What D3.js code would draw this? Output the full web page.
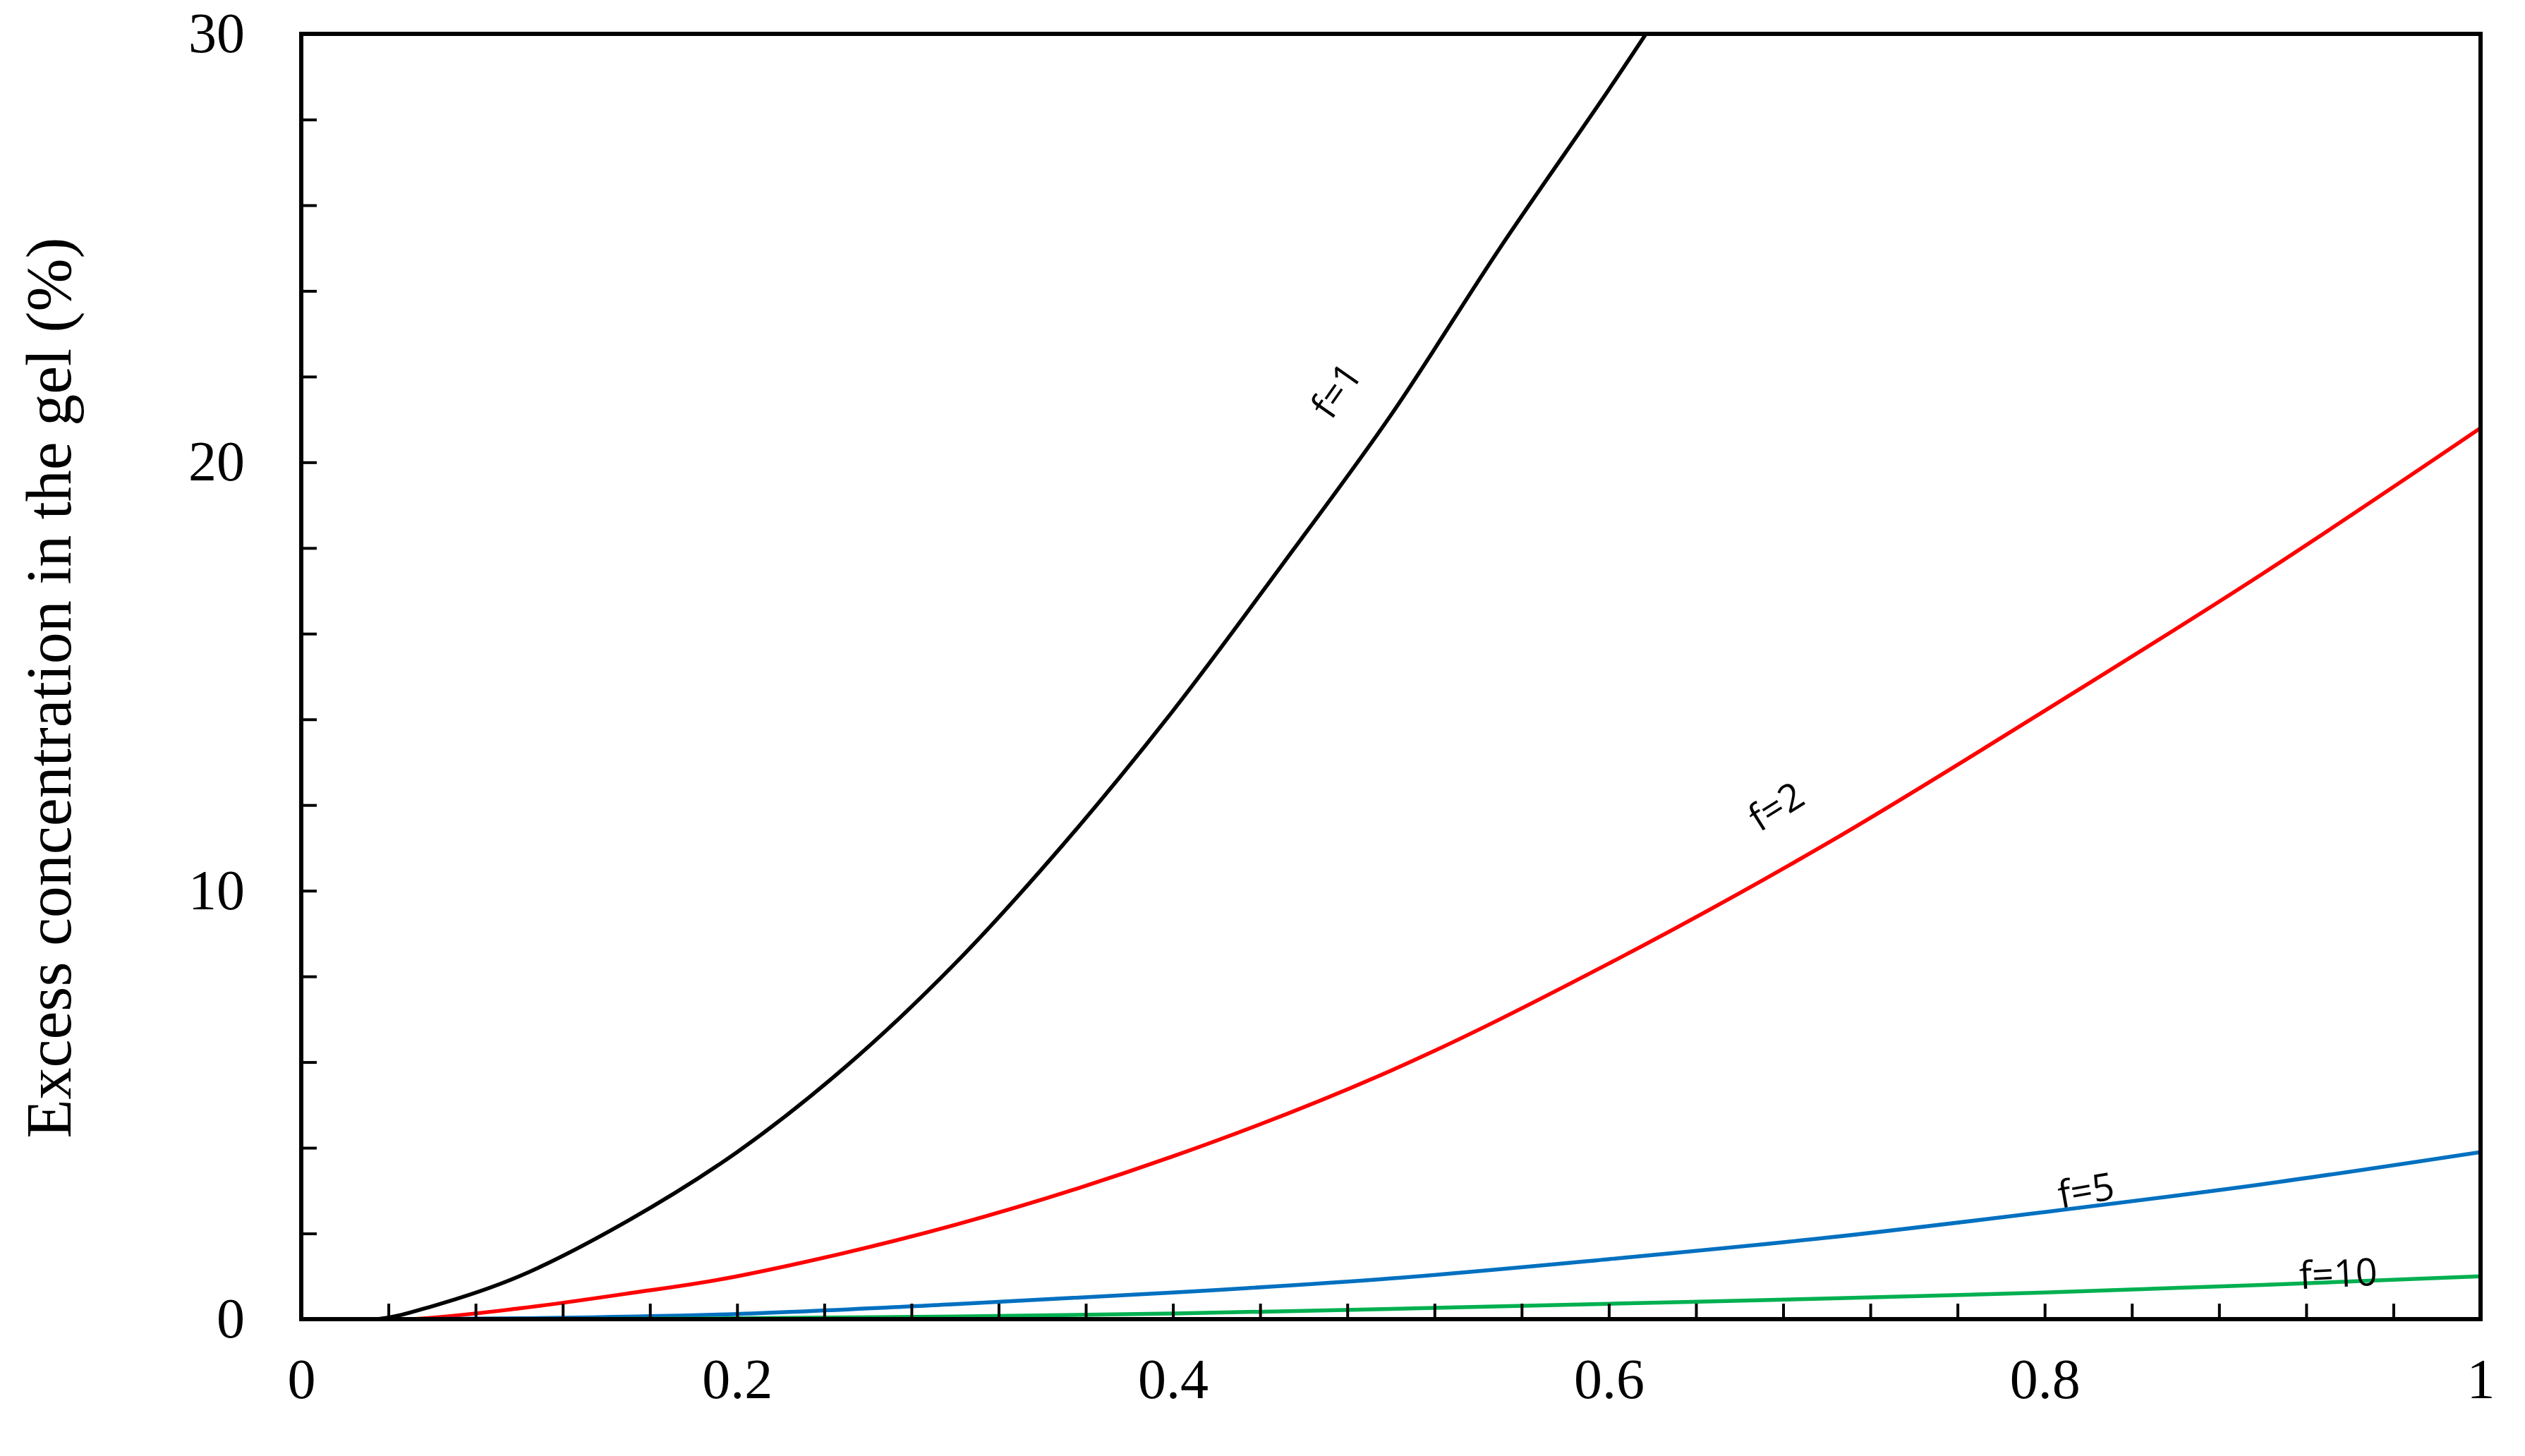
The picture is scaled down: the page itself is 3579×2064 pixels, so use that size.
<!DOCTYPE html><html><head><meta charset="utf-8"><script src="https://cdn.jsdelivr.net/npm/d3@7"></script>
<style>body{margin:0;background:#fff}</style></head><body><svg id="c" width="3579" height="2064"></svg>
<script>
const xs=[0,0.035,0.06,0.1,0.15,0.2,0.25,0.3,0.35,0.4,0.45,0.5,0.55,0.6,0.63];
const f1=[0,0,0.3,1.0,2.3,3.9,5.9,8.3,11.1,14.2,17.6,21.1,25.0,28.7,31.0];
const xs2=[0,0.05,0.1,0.15,0.2,0.3,0.4,0.5,0.6,0.7,0.8,0.9,1];
const f2=[0,0,0.25,0.6,1.0,2.2,3.8,5.8,8.3,11.1,14.2,17.4,20.8];
const xs3=[0,0.1,0.2,0.3,0.4,0.5,0.6,0.7,0.8,0.9,1];
const f5=[0,0.02,0.12,0.35,0.62,0.95,1.4,1.9,2.5,3.15,3.9];
const f10=[0,0,0.02,0.06,0.13,0.24,0.36,0.48,0.62,0.8,1.0];
const series=[{x:xs,y:f1,c:"#000",l:"f=1",lx:0.48,ly:21.5,a:-55},{x:xs2,y:f2,c:"#ff0000",l:"f=2",lx:0.68,ly:11.7,a:-32},
{x:xs3,y:f5,c:"#0070c0",l:"f=5",lx:0.82,ly:2.7,a:-10},{x:xs3,y:f10,c:"#00b050",l:"f=10",lx:0.935,ly:0.75,a:-3}];
const L=427,R=3516,T=48,B=1870;
const svg=d3.select("#c");
const x=d3.scaleLinear([0,1],[L,R]),y=d3.scaleLinear([0,30],[B,T]);
const font="Liberation Serif, DejaVu Serif, serif";
svg.append("defs").append("clipPath").attr("id","cp").append("rect").attr("x",L).attr("y",T).attr("width",R-L).attr("height",B-T);
const line=d3.line().x(d=>x(d[0])).y(d=>y(d[1])).curve(d3.curveCatmullRom);
series.forEach(s=>{
svg.append("path").attr("d",line(s.x.map((v,i)=>[v,s.y[i]]))).attr("fill","none").attr("stroke",s.c).attr("stroke-width",5.5).attr("clip-path","url(#cp)");
svg.append("text").attr("transform",`translate(${x(s.lx)},${y(s.ly)}) rotate(${s.a})`).attr("font-family","Open Sans, sans-serif").attr("font-size",54).attr("text-anchor","middle").text(s.l);
});
const ya=svg.append("g").attr("transform",`translate(${L},0)`).call(d3.axisRight(y).tickValues(d3.range(0,31,2)).tickSize(22).tickFormat(""));
const yb=svg.append("g").attr("transform",`translate(${L},0)`).call(d3.axisLeft(y).tickValues([0,10,20,30]).tickSize(0).tickPadding(80).tickFormat(d3.format("d")));
const xa=svg.append("g").attr("transform",`translate(0,${B})`).call(d3.axisTop(x).tickValues(d3.range(0,1.001,0.04)).tickSize(22).tickFormat(""));
const xb=svg.append("g").attr("transform",`translate(0,${B})`).call(d3.axisBottom(x).tickValues([0,0.2,0.4,0.6,0.8,1]).tickSize(0).tickPadding(55).tickFormat(d=>d===0||d===1?d:d3.format(".1f")(d)));
[ya,yb,xa,xb].forEach(g=>{g.select(".domain").remove();g.selectAll("line").attr("stroke","#000").attr("stroke-width",4);g.selectAll("text").attr("font-family",font).attr("font-size",80).attr("fill","#000");});
yb.selectAll("text").attr("dy","0.32em");
svg.append("rect").attr("x",L).attr("y",T).attr("width",R-L).attr("height",B-T).attr("fill","none").attr("stroke","#000").attr("stroke-width",6);
svg.append("text").attr("transform",`translate(100,975) rotate(-90)`).attr("font-family",font).attr("font-size",90).attr("text-anchor","middle").text("Excess concentration in the gel (%)");
</script></body></html>
